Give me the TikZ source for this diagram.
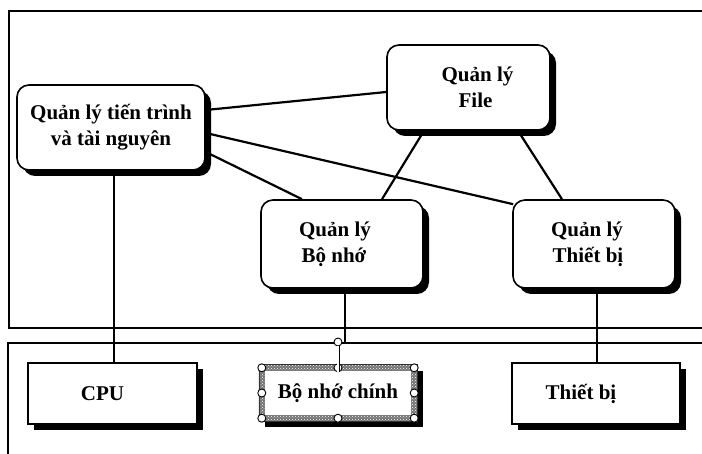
\documentclass[tikz,border=0pt]{standalone}
\usepackage{fontspec}
\setmainfont{Liberation Serif}
\usetikzlibrary{shadows,patterns,calc}
\begin{document}
\begin{tikzpicture}[x=1pt,y=-1pt,
  panel/.style={line width=2pt},
  txt/.style={font=\fontsize{21}{26}\selectfont\bfseries},
  shad/.style={drop shadow={shadow xshift=6pt,shadow yshift=-6pt,fill=black,opacity=1}},
  mgr/.style={txt,shad,draw,line width=1.6pt,rounded corners=12pt,fill=white,align=center,inner sep=0pt},
  hwbox/.style={txt,shad,draw,line width=1.6pt,fill=white,inner sep=0pt},
  link/.style={line width=2.2pt},
  handle/.style={circle,draw,fill=white,line width=0.9pt,inner sep=0pt,minimum size=8pt}
]
\useasboundingbox (0,0) rectangle (702,454);
\clip (0,0) rectangle (702,454);
\fill[white] (0,0) rectangle (702,454);
% panels
\draw[panel] (720,11) -- (9,11) -- (9,328) -- (720,328);
\draw[panel] (720,343) -- (8,343) -- (8,470);
% manager nodes
\node[mgr,minimum width=188pt,minimum height=85pt] (P) at (111,127.5) {Quản lý tiến trình\\và tài nguyên};
\node[mgr,minimum width=163pt,minimum height=85pt] (F) at (468.5,87.5) {\hspace*{18pt}Quản lý\\\hspace*{14pt}File};
\node[mgr,minimum width=162pt,minimum height=88pt] (M) at (342,244) {Quản lý\hspace*{14pt}\\Bộ nhớ\hspace*{16pt}};
\node[mgr,minimum width=162pt,minimum height=88pt] (D) at (594,244) {Quản lý\hspace*{14pt}\\Thiết bị\hspace*{12pt}};
% hardware nodes
\node[hwbox,minimum width=169pt,minimum height=61pt] (CPU) at (112.5,393.5) {CPU\hspace*{20pt}};
\node[hwbox,minimum width=168pt,minimum height=61pt] (Dev) at (596,393.5) {\raisebox{-6pt}{Thiết bị}\hspace*{30pt}};
\node[txt,shad,fill=white,inner sep=0pt,minimum width=158pt,minimum height=56pt] (RAM) at (338,393) {Bộ nhớ chính};
% selection frame of RAM
\fill[black!55,even odd rule]
  (RAM.north west) rectangle (RAM.south east)
  ([xshift=6pt,yshift=-6pt]RAM.north west) rectangle ([xshift=-6pt,yshift=6pt]RAM.south east);
\fill[pattern=crosshatch dots,pattern color=white,even odd rule]
  (RAM.north west) rectangle (RAM.south east)
  ([xshift=6pt,yshift=-6pt]RAM.north west) rectangle ([xshift=-6pt,yshift=6pt]RAM.south east);
\draw[line width=0.6pt,black!80] (RAM.north west) rectangle (RAM.south east);
\foreach \a/\dx/\dy in {north west/3/-3,north/0/-3,north east/-3/-3,east/-3/0,south east/-3/3,south/0/3,south west/3/3,west/3/0}
  \node[handle] at ([xshift=\dx pt,yshift=\dy pt]RAM.\a) {};
\node[handle] (rot) at (338,342) {};
\draw[line width=0.7pt,double=white,double distance=1.6pt] (rot.south) -- ([yshift=-7pt]RAM.north);
% connectors
\coordinate (mtap) at (345,343);
\draw[link] ([yshift=17.5pt]P.east) -- ([yshift=-4.5pt]F.west);
\draw[link] ([yshift=-5.5pt]P.east) -- ([xshift=1pt,yshift=-5pt]D.north west);
\draw[link] ([yshift=-24.5pt]P.east) -- ([xshift=-40pt]M.north);
\draw[link] ([xshift=-44.5pt]F.south) -- ([xshift=40pt]M.north);
\draw[link] ([xshift=49.5pt]F.south) -- ([xshift=-32pt]D.north);
\draw[link] ([xshift=3pt]P.south) -- ([xshift=1.5pt]CPU.north);
\draw[link] ([xshift=3pt]M.south) -- (mtap);
\draw[link] ([xshift=3pt]D.south) -- ([xshift=1pt]Dev.north);
\end{tikzpicture}
\end{document}
